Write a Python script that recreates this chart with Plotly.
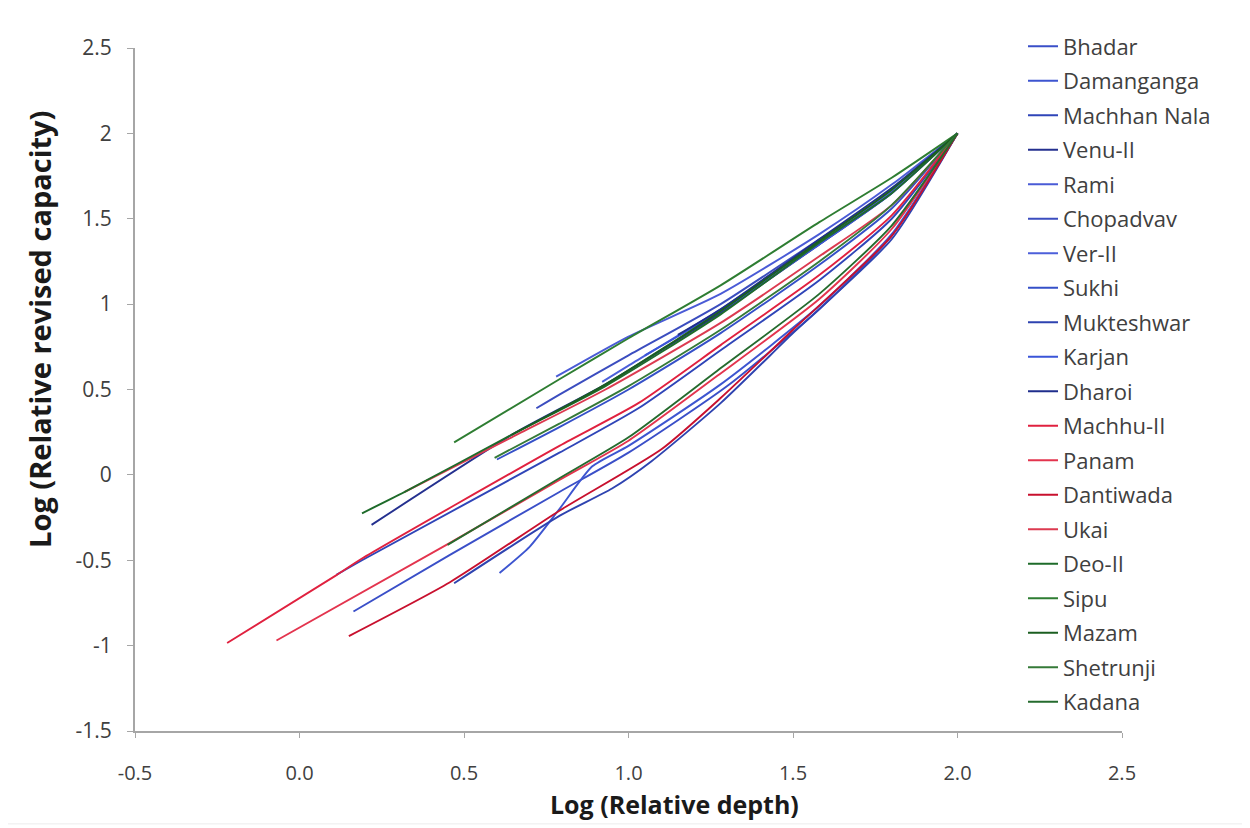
import plotly.graph_objects as go

# ---- data ----
names = ["Bhadar", "Damanganga", "Machhan Nala", "Venu-II", "Rami", "Chopadvav",
         "Ver-II", "Sukhi", "Mukteshwar", "Karjan", "Dharoi",
         "Machhu-II", "Panam", "Dantiwada", "Ukai",
         "Deo-II", "Sipu", "Mazam", "Shetrunji", "Kadana"]

bhadar_x = [0.164, 0.456, 0.79, 1.0, 1.3, 1.58, 1.8, 2.0]
bhadar_y = [-0.80, -0.47, -0.10, 0.13, 0.52, 0.97, 1.40, 2.0]
damanganga_x = [0.608, 0.70, 0.79, 0.89, 1.0, 1.28, 1.58, 1.8, 2.0]
damanganga_y = [-0.575, -0.42, -0.20, 0.05, 0.17, 0.53, 0.99, 1.41, 2.0]
machhan_x = [0.112, 0.19, 0.79, 1.03, 1.28, 1.58, 1.8, 2.0]
machhan_y = [-0.586, -0.50, 0.13, 0.39, 0.73, 1.14, 1.50, 2.0]
venu_x = [0.219, 0.65, 0.93, 1.28, 1.58, 1.8, 2.0]
venu_y = [-0.293, 0.24, 0.53, 0.95, 1.35, 1.65, 2.0]
rami_x = [0.78, 1.0, 1.28, 1.58, 1.8, 2.0]
rami_y = [0.575, 0.81, 1.06, 1.41, 1.70, 2.0]
chopadvav_x = [0.72, 0.79, 1.0, 1.28, 1.58, 1.8, 2.0]
chopadvav_y = [0.39, 0.47, 0.70, 1.00, 1.38, 1.66, 2.0]
ver_x = [0.92, 1.0, 1.28, 1.58, 1.8, 2.0]
ver_y = [0.545, 0.64, 0.97, 1.36, 1.66, 2.0]
sukhi_x = [0.60, 0.79, 1.0, 1.28, 1.58, 1.8, 2.0]
sukhi_y = [0.09, 0.28, 0.50, 0.83, 1.23, 1.56, 2.0]
mukteshwar_x = [0.47, 0.79, 0.95, 1.07, 1.28, 1.5, 1.8, 2.0]
mukteshwar_y = [-0.635, -0.24, -0.08, 0.08, 0.42, 0.83, 1.38, 2.0]
karjan_x = [1.05, 1.28, 1.58, 1.8, 2.0]
karjan_y = [0.70, 0.96, 1.35, 1.65, 2.0]
dharoi_x = [1.15, 1.28, 1.58, 1.8, 2.0]
dharoi_y = [0.82, 0.97, 1.38, 1.68, 2.0]
machhu_x = [-0.22, 0.11, 0.19, 0.79, 1.03, 1.28, 1.58, 1.8, 2.0]
machhu_y = [-0.985, -0.59, -0.49, 0.17, 0.42, 0.76, 1.17, 1.52, 2.0]
panam_x = [-0.07, 0.456, 0.79, 1.0, 1.27, 1.58, 1.8, 2.0]
panam_y = [-0.97, -0.40, -0.03, 0.20, 0.58, 1.03, 1.44, 2.0]
dantiwada_x = [0.15, 0.456, 0.79, 1.1, 1.28, 1.5, 1.8, 2.0]
dantiwada_y = [-0.944, -0.63, -0.21, 0.15, 0.45, 0.85, 1.40, 2.0]
ukai_x = [0.32, 0.645, 0.93, 1.28, 1.58, 1.8, 2.0]
ukai_y = [-0.10, 0.22, 0.50, 0.89, 1.28, 1.58, 2.0]
deo_x = [0.19, 0.32, 0.645, 0.93, 1.28, 1.58, 1.8, 2.0]
deo_y = [-0.225, -0.10, 0.235, 0.52, 0.94, 1.36, 1.65, 2.0]
sipu_x = [0.47, 0.79, 1.0, 1.28, 1.58, 1.8, 2.0]
sipu_y = [0.19, 0.56, 0.80, 1.11, 1.48, 1.74, 2.0]
mazam_x = [0.645, 0.93, 1.28, 1.58, 1.8, 2.0]
mazam_y = [0.235, 0.53, 0.96, 1.37, 1.67, 2.0]
shetrunji_x = [0.593, 0.79, 1.0, 1.28, 1.58, 1.8, 2.0]
shetrunji_y = [0.10, 0.30, 0.52, 0.85, 1.25, 1.58, 2.0]
kadana_x = [0.45, 0.79, 1.0, 1.27, 1.58, 1.8, 2.0]
kadana_y = [-0.41, -0.02, 0.22, 0.61, 1.06, 1.46, 2.0]

xs = [bhadar_x, damanganga_x, machhan_x, venu_x, rami_x, chopadvav_x, ver_x,
      sukhi_x, mukteshwar_x, karjan_x, dharoi_x,
      machhu_x, panam_x, dantiwada_x, ukai_x,
      deo_x, sipu_x, mazam_x, shetrunji_x, kadana_x]
ys = [bhadar_y, damanganga_y, machhan_y, venu_y, rami_y, chopadvav_y, ver_y,
      sukhi_y, mukteshwar_y, karjan_y, dharoi_y,
      machhu_y, panam_y, dantiwada_y, ukai_y,
      deo_y, sipu_y, mazam_y, shetrunji_y, kadana_y]

x_tickvals = [-0.5, 0.0, 0.5, 1.0, 1.5, 2.0, 2.5]
x_ticktext = ["-0.5", "0.0", "0.5", "1.0", "1.5", "2.0", "2.5"]
y_tickvals = [-1.5, -1.0, -0.5, 0.0, 0.5, 1.0, 1.5, 2.0, 2.5]
y_ticktext = ["-1.5", "-1", "-0.5", "0", "0.5", "1", "1.5", "2", "2.5"]
x_title = "Log (Relative depth)"
y_title = "Log (Relative revised capacity)"

colors = ["#3A4FC8", "#3D55D0", "#2F45B8", "#24308F", "#4A5BD6", "#3B4DBF",
          "#4C5FDA", "#3550C8", "#2E43B0", "#3A55D8", "#1F2E8C",
          "#E0213F", "#E3344E", "#C8102E", "#DC3A50",
          "#1E6B2A", "#2E7D32", "#1B5E20", "#357A38", "#256B2E"]

fig = go.Figure()
for i, n in enumerate(names):
    fig.add_trace(go.Scatter(
        x=xs[i], y=ys[i], name=n, mode="lines",
        line=dict(color=colors[i], width=1.9, shape="spline", smoothing=0.6),
        legendgroup=n,
    ))

font_family = "'Open Sans', Lato, sans-serif"
axis_col = "#A6A6A6"
txt_col = "#404040"
fig.update_layout(
    width=1250, height=828,
    paper_bgcolor="white", plot_bgcolor="white",
    margin=dict(l=127, r=136, t=40, b=105),
    font=dict(family=font_family, size=22, color=txt_col),
    showlegend=True,
    legend=dict(x=0.8997, y=1.033, xanchor="left", yanchor="top",
                font=dict(size=22, color=txt_col),
                tracegroupgap=2.9, bgcolor="rgba(0,0,0,0)",
                maxheight=800),
    xaxis=dict(range=[-0.5, 2.5], tickvals=x_tickvals, ticktext=x_ticktext,
               showgrid=False, zeroline=False, showline=True,
               linecolor=axis_col, linewidth=2, ticks="outside",
               ticklen=5, tickcolor=axis_col, tickwidth=1,
               ticklabelstandoff=18, automargin=False,
               tickfont=dict(size=20, color=txt_col)),
    yaxis=dict(range=[-1.5, 2.5], tickvals=y_tickvals, ticktext=y_ticktext,
               showgrid=False, zeroline=False, showline=True,
               linecolor=axis_col, linewidth=2, ticks="outside",
               ticklen=6, tickcolor=axis_col, tickwidth=1,
               ticklabelstandoff=11, automargin=False,
               tickfont=dict(size=21, color=txt_col)),
    annotations=[
        dict(text="<b>" + x_title + "</b>", xref="paper", yref="paper",
             x=0.547, y=-0.1075, xanchor="center", yanchor="middle",
             showarrow=False, font=dict(size=25, color="#1a1a1a")),
        dict(text="<b>" + y_title + "</b>", xref="paper", yref="paper",
             x=-0.0963, y=0.5886, xanchor="center", yanchor="middle",
             textangle=-90, showarrow=False,
             font=dict(size=29, color="#1a1a1a")),
    ],
    shapes=[dict(type="rect", xref="paper", yref="paper",
                 x0=-0.1327, x1=1.1256, y0=-0.136, y1=1.063,
                 line=dict(color="#ECECEC", width=1), layer="below")],
)

fig.write_html("out.html")
